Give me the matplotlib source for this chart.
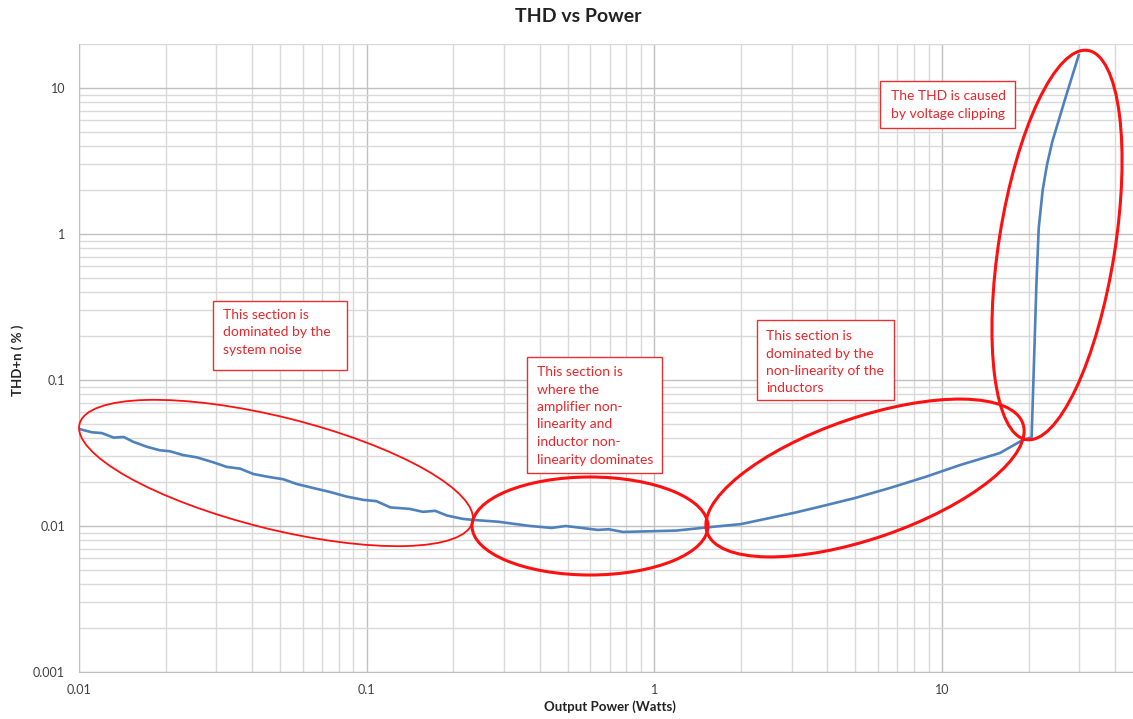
import matplotlib.pyplot as plt
from matplotlib.patches import Ellipse, Rectangle

plt.rcParams['font.family'] = ['Lato', 'DejaVu Sans']

# THD+n vs output power
power = [0.0100, 0.0111, 0.0120, 0.0132, 0.0143, 0.0154, 0.0172, 0.0191, 0.0207,
         0.0230, 0.0257, 0.0293, 0.0326, 0.0363, 0.0404, 0.0449, 0.0513, 0.0571,
         0.0652, 0.0746, 0.0852, 0.0973, 0.108, 0.121, 0.141, 0.157, 0.173, 0.190,
         0.215, 0.235, 0.286, 0.370, 0.440, 0.492, 0.637, 0.694, 0.778, 1.19, 1.54,
         2.00, 3.06, 3.73, 4.96, 6.59, 8.77, 11.6, 15.9, 19.1, 20.5, 20.8, 21.3, 21.7,
         22.4, 23.2, 24.2, 25.4, 26.6, 27.8, 29.9]
thd = [0.0462, 0.0438, 0.0433, 0.0403, 0.0407, 0.0378, 0.0349, 0.0330, 0.0325,
       0.0306, 0.0295, 0.0273, 0.0254, 0.0247, 0.0227, 0.0218, 0.0209, 0.0194,
       0.0182, 0.0171, 0.0159, 0.0151, 0.0148, 0.0134, 0.0131, 0.0125, 0.0127, 0.0118,
       0.0112, 0.0110, 0.0107, 0.0100, 0.0097, 0.0100, 0.0094, 0.0095, 0.0091, 0.0093, 0.0098,
       0.0103, 0.0123, 0.0135, 0.0155, 0.0182, 0.0217, 0.0262, 0.0316, 0.0388, 0.0405, 0.10, 0.45,
       1.10, 2.0, 3.0, 4.3, 5.9, 8.0, 10.6, 16.8]

x_ticks = [0.01, 0.1, 1, 10]
x_tick_labels = ['0.01', '0.1', '1', '10']
y_ticks = [0.001, 0.01, 0.1, 1, 10]
y_tick_labels = ['0.001', '0.01', '0.1', '1', '10']

notes = [
    ['This section is', 'dominated by the', 'system noise'],
    ['This section is', 'where the', 'amplifier non-', 'linearity and',
     'inductor non-', 'linearity dominates'],
    ['This section is', 'dominated by the', 'non-linearity of the', 'inductors'],
    ['The THD is caused', 'by voltage clipping'],
]

W, H = 1133, 719
fig = plt.figure(figsize=(W / 100, H / 100), dpi=100)
# plot area in pixels: left 79, top 44, bottom 672, right runs off the image (x=50 at 1143)
ax = fig.add_axes([79 / W, 1 - 672 / H, (1143 - 79) / W, (672 - 44) / H])

ax.set_xscale('log')
ax.set_yscale('log')
ax.set_xlim(0.01, 50)
ax.set_ylim(0.001, 20)

ax.grid(True, which='major', color='#c0c0c0', lw=1.0)
ax.grid(True, which='minor', color='#d9d9d9', lw=1.0)
ax.set_axisbelow(True)
for s in ax.spines.values():
    s.set_visible(False)
ax.spines['bottom'].set_visible(True)
ax.spines['bottom'].set_color('#c0c0c0')
ax.spines['left'].set_visible(True)
ax.spines['left'].set_color('#c0c0c0')

ax.plot(power, thd, color='#4f81bd', lw=1.9, zorder=3)

ax.set_xticks(x_ticks)
ax.set_xticklabels(x_tick_labels)
ax.set_yticks(y_ticks)
ax.set_yticklabels(y_tick_labels)
ax.tick_params(which='both', length=0, labelsize=9, labelcolor='#404040')
ax.tick_params(axis='x', pad=9)
ax.tick_params(axis='y', pad=10)

fig.text(578 / W, 1 - 17 / H, 'THD vs Power', ha='center', va='center',
         fontsize=14, fontweight='bold', color='#222222')
fig.text(610 / W, 1 - 707 / H, 'Output Power (Watts)', ha='center', va='center',
         fontsize=9.5, fontweight='bold', color='#222222')
fig.text(18 / W, 1 - 360 / H, 'THD+n ( % )', ha='center', va='center', rotation=90,
         fontsize=9.5, fontweight='bold', color='#222222')

# overlay in pixel coordinates for the hand-drawn shapes
ov = fig.add_axes([0, 0, 1, 1])
ov.set_xlim(0, W)
ov.set_ylim(H, 0)
ov.axis('off')
ov.patch.set_alpha(0)

red = '#ff1010'
ov.add_patch(Ellipse((276, 473), 405, 112, angle=14, fill=False, ec=red, lw=1.3))
ov.add_patch(Ellipse((590, 526), 236, 98, angle=0, fill=False, ec=red, lw=2.2))
ov.add_patch(Ellipse((865, 478), 334, 121, angle=-19, fill=False, ec=red, lw=2.2))
ov.add_patch(Ellipse((1057, 245), 394, 116, angle=-81, fill=False, ec=red, lw=2.2))

boxes = [(213, 301, 134, 69, 223, 315),
         (527, 357, 135, 116, 537, 372),
         (757, 320, 137, 80, 766, 336),
         (880, 81, 135, 47, 891, 96)]
for (bx, by, bw, bh, tx, ty), lines in zip(boxes, notes):
    ov.add_patch(Rectangle((bx, by), bw, bh, fc='white', ec='#e83030', lw=1.0))
    for i, line in enumerate(lines):
        ov.text(tx, ty + i * 17.5, line, ha='left', va='center',
                fontsize=10, color='#e8262b')

fig.savefig('out.png', dpi=100)
